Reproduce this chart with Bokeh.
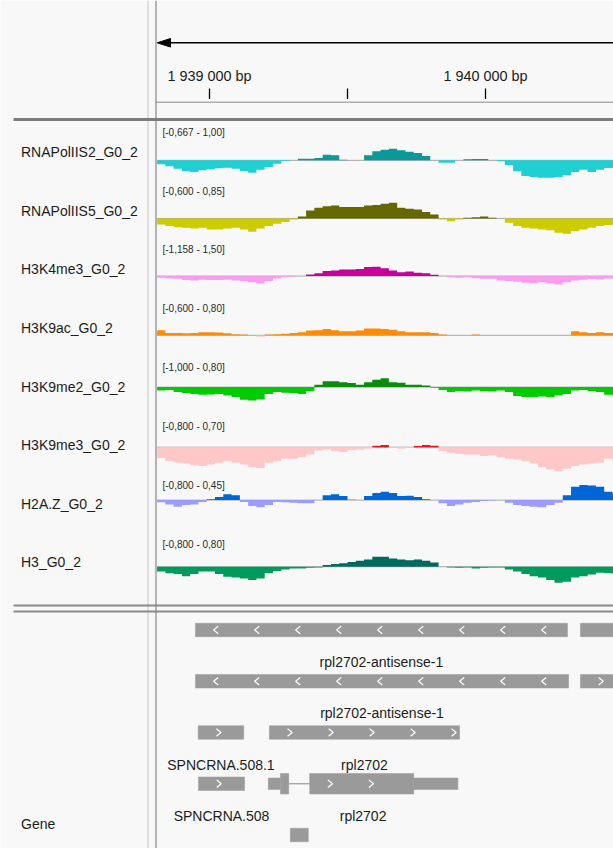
from bokeh.plotting import figure
from bokeh.models import Range1d
from bokeh.embed import file_html
from bokeh.resources import INLINE
from bokeh.core.properties import value

W, H = 613, 848
FONT = value("Liberation Sans")

# ------------------------------------------------------------------ data
bin_start = 1938810
bin_size = 30
ruler_ticks = [1939000, 1939500, 1940000]
ruler_labels = ["1 939 000 bp", "", "1 940 000 bp"]

track_names = ["RNAPolIIS2_G0_2", "RNAPolIIS5_G0_2", "H3K4me3_G0_2", "H3K9ac_G0_2",
               "H3K9me2_G0_2", "H3K9me3_G0_2", "H2A.Z_G0_2", "H3_G0_2"]
track_min = [-0.667, -0.600, -1.158, -0.600, -1.000, -0.800, -0.800, -0.800]
track_max = [1.00, 0.85, 1.50, 0.80, 0.80, 0.70, 0.45, 0.80]
range_labels = ["[-0,667 - 1,00]", "[-0,600 - 0,85]", "[-1,158 - 1,50]", "[-0,600 - 0,80]",
                "[-1,000 - 0,80]", "[-0,800 - 0,70]", "[-0,800 - 0,45]", "[-0,800 - 0,80]"]
pos_colors = ["#0b9898", "#676700", "#c6009a", "#ff8c00", "#0a8c0a", "#ff1010", "#0066d8", "#006a5e"]
neg_colors = ["#1fcfd2", "#cccc00", "#f89cee", "#ffb4a4", "#00cc00", "#ffc8c8", "#9c9cff", "#009a5c"]

sig_rnapol2 = [-0.12, -0.18, -0.25, -0.33, -0.35, -0.30, -0.27, -0.24, -0.22, -0.25,
               -0.32, -0.37, -0.28, -0.20, -0.10, -0.02, 0.00, 0.05, 0.05, 0.07,
               0.17, 0.15, 0.02, 0.00, 0.00, 0.15, 0.27, 0.32, 0.35, 0.30,
               0.26, 0.22, 0.13, 0.00, -0.07, -0.07, 0.00, 0.03, 0.04, 0.04,
               0.00, -0.03, -0.15, -0.33, -0.47, -0.50, -0.52, -0.52, -0.50, -0.45,
               -0.35, -0.28, -0.35, -0.28, -0.23, -0.22]
sig_rnapol5 = [-0.16, -0.20, -0.23, -0.24, -0.26, -0.24, -0.29, -0.29, -0.26, -0.24,
               -0.29, -0.35, -0.26, -0.20, -0.14, -0.09, -0.03, 0.05, 0.21, 0.28,
               0.32, 0.34, 0.30, 0.30, 0.30, 0.34, 0.35, 0.38, 0.41, 0.28,
               0.25, 0.23, 0.17, 0.10, -0.03, -0.07, -0.03, 0.02, 0.03, 0.05,
               0.02, 0.00, -0.11, -0.20, -0.24, -0.26, -0.29, -0.31, -0.37, -0.40,
               -0.33, -0.29, -0.24, -0.20, -0.17, -0.16]
sig_h3k4me3 = [-0.08, -0.11, -0.13, -0.19, -0.21, -0.18, -0.19, -0.19, -0.18, -0.21,
               -0.24, -0.29, -0.35, -0.24, -0.11, -0.05, -0.02, 0.00, 0.08, 0.13,
               0.24, 0.27, 0.32, 0.32, 0.34, 0.43, 0.45, 0.37, 0.27, 0.18,
               0.22, 0.16, 0.13, 0.06, 0.00, -0.06, -0.08, -0.06, -0.10, -0.13,
               -0.13, -0.21, -0.24, -0.27, -0.32, -0.34, -0.29, -0.35, -0.40, -0.29,
               -0.21, -0.18, -0.14, -0.16, -0.11, -0.13]
sig_h3k9ac = [0.13, 0.06, 0.06, 0.05, 0.06, 0.08, 0.08, 0.07, 0.05, 0.03,
              0.02, 0.00, -0.03, 0.02, 0.03, 0.04, 0.06, 0.08, 0.12, 0.13,
              0.16, 0.13, 0.10, 0.10, 0.12, 0.17, 0.17, 0.16, 0.14, 0.10,
              0.08, 0.08, 0.08, 0.06, 0.02, 0.00, 0.00, 0.00, 0.02, 0.00,
              0.00, 0.00, 0.00, 0.00, 0.00, 0.00, 0.00, 0.00, 0.00, 0.00,
              0.10, 0.08, 0.06, 0.08, 0.06, 0.06]
sig_h3k9me2 = [-0.11, -0.09, -0.16, -0.19, -0.22, -0.25, -0.24, -0.22, -0.27, -0.32,
               -0.41, -0.43, -0.40, -0.22, -0.16, -0.18, -0.19, -0.22, -0.13, 0.08,
               0.19, 0.19, 0.16, 0.13, 0.08, 0.16, 0.24, 0.29, 0.16, 0.14,
               0.08, 0.08, 0.05, -0.02, -0.09, -0.16, -0.13, -0.14, -0.11, -0.13,
               -0.14, -0.11, -0.16, -0.29, -0.32, -0.32, -0.30, -0.32, -0.27, -0.22,
               -0.11, -0.09, -0.13, -0.16, -0.25, -0.27]
sig_h3k9me3 = [-0.29, -0.38, -0.42, -0.44, -0.49, -0.51, -0.47, -0.42, -0.38, -0.42,
               -0.47, -0.54, -0.56, -0.42, -0.38, -0.31, -0.31, -0.27, -0.20, -0.09,
               -0.06, -0.11, -0.13, -0.08, -0.06, -0.04, 0.04, 0.06, -0.02, -0.04,
               -0.02, 0.03, 0.06, 0.04, -0.11, -0.15, -0.18, -0.20, -0.20, -0.24,
               -0.22, -0.27, -0.31, -0.33, -0.38, -0.44, -0.54, -0.60, -0.65, -0.58,
               -0.51, -0.47, -0.44, -0.42, -0.31, -0.38]
sig_h2az = [-0.05, -0.10, -0.15, -0.11, -0.10, -0.04, 0.02, 0.07, 0.13, 0.11,
            -0.04, -0.13, -0.16, -0.11, -0.04, -0.05, -0.06, -0.07, -0.07, 0.00,
            0.11, 0.13, 0.09, 0.01, 0.00, 0.09, 0.16, 0.19, 0.16, 0.09,
            0.10, 0.07, 0.02, 0.00, -0.07, -0.13, -0.10, -0.06, -0.04, -0.02,
            -0.01, 0.00, -0.06, -0.11, -0.13, -0.15, -0.16, -0.11, -0.06, 0.11,
            0.30, 0.34, 0.33, 0.30, 0.19, 0.15]
sig_h3 = [-0.14, -0.19, -0.21, -0.27, -0.21, -0.14, -0.14, -0.21, -0.29, -0.31,
          -0.34, -0.38, -0.34, -0.19, -0.12, -0.08, -0.05, -0.05, -0.03, -0.02,
          0.05, 0.08, 0.10, 0.14, 0.17, 0.21, 0.29, 0.29, 0.24, 0.21,
          0.19, 0.21, 0.17, 0.12, 0.00, -0.02, -0.03, -0.02, -0.05, -0.03,
          -0.02, -0.02, -0.08, -0.14, -0.21, -0.27, -0.31, -0.38, -0.46, -0.43,
          -0.31, -0.27, -0.22, -0.17, -0.19, -0.21]
signals = [sig_rnapol2, sig_rnapol5, sig_h3k4me3, sig_h3k9ac,
           sig_h3k9me2, sig_h3k9me3, sig_h2az, sig_h3]

# gene annotation track
gene_names = ["rpl2702-antisense-1", "", "rpl2702-antisense-1", "",
              "SPNCRNA.508.1", "rpl2702", "SPNCRNA.508", "rpl2702", ""]
gene_rows = [0, 0, 1, 1, 2, 2, 3, 3, 4]
gene_strands = ["-", ".", "-", "+", "+", "+", "+", "+", "."]
gene_exon_starts = [[1938949], [1940344], [1938949], [1940344], [1938959], [1939217],
                    [1938960], [1939213, 1939257, 1939363, 1939740], [1939293]]
gene_exon_ends = [[1940297], [1940700], [1940301], [1940700], [1939124], [1939906],
                  [1939127], [1939257, 1939287, 1939740, 1939900], [1939358]]
gene_exon_kinds = [["nc"], ["nc"], ["nc"], ["nc"], ["nc"], ["nc"],
                   ["nc"], ["utr", "cds", "cds", "utr"], ["nc"]]

# ------------------------------------------------------------------ layout
PX_PER_BP = 0.276
TICK0_PX = 209.0
bp_left = ruler_ticks[0] - TICK0_PX / PX_PER_BP
bp_right = bp_left + W / PX_PER_BP
TRACK_TOP0, TRACK_STEP, TRACK_H = 126.5, 58.85, 55.6
NAME_Y0, NAME_STEP = 151.7, 58.58
GENE_ROW0, GENE_STEP = 629.5, 51.25
EXON_H = {"nc": 13.5, "utr": 11.5, "cds": 20.5}
BG = "#f8f8f8"
GENE_COLOR = "#9a9a9a"
TXT = "#1c1c1c"

p = figure(width=W, height=H, x_range=Range1d(0, W), y_range=Range1d(H, 0),
           output_backend="svg", toolbar_location=None, min_border=0,
           x_axis_location=None, y_axis_location=None, outline_line_color=None,
           background_fill_color=BG, border_fill_color=BG)
p.grid.visible = False
p.extra_x_ranges = {"bp": Range1d(bp_left, bp_right)}

# panel dividers
p.segment(x0=[147.5], y0=[0], x1=[147.5], y1=[H], line_color="#c6c6c6", line_width=1)
p.segment(x0=[155.5], y0=[0], x1=[155.5], y1=[H], line_color="#8e8e8e", line_width=1.3)
p.segment(x0=[13], y0=[119], x1=[W], y1=[119], line_color="#7c7c7c", line_width=3)
p.segment(x0=[13, 13], y0=[605, 611], x1=[W, W], y1=[605, 611], line_color="#8a8a8a", line_width=2)
p.segment(x0=[155.5], y0=[101.7], x1=[W], y1=[101.7], line_color="#8a8a8a", line_width=1)

# strand arrow of the ruler
p.segment(x0=[166], y0=[42.3], x1=[W], y1=[42.3], line_color="black", line_width=1.5)
p.patch(x=[156.7, 170, 170], y=[42.3, 38.0, 46.6], fill_color="black", line_color="black")

# ruler ticks & labels
p.segment(x0=ruler_ticks, x1=ruler_ticks, y0=[88] * len(ruler_ticks), y1=[98.5] * len(ruler_ticks),
          x_range_name="bp", line_color="black", line_width=1.3)
lab = [(t, l) for t, l in zip(ruler_ticks, ruler_labels) if l]
p.text(x=[t for t, _ in lab], y=[75] * len(lab), text=[l for _, l in lab], x_range_name="bp",
       text_align="center", text_baseline="middle", text_font=FONT, text_font_size="14.4px",
       text_color=TXT)

# signal tracks (step areas, positive and negative parts)
n_bins = len(signals[0])
lefts = [bin_start + i * bin_size for i in range(n_bins)]
step_x = []
for l in lefts:
    step_x += [l, l + bin_size]
for i, sig in enumerate(signals):
    lo, hi = track_min[i], track_max[i]
    top = TRACK_TOP0 + i * TRACK_STEP
    ppu = TRACK_H / (hi - lo)
    rname = f"t{i}"
    p.extra_y_ranges[rname] = Range1d(hi - (H - top) / ppu, hi + top / ppu)
    p.segment(x0=[lefts[0]], x1=[lefts[-1] + bin_size], y0=[0], y1=[0], x_range_name="bp",
              y_range_name=rname, line_color="#a8a8a8", line_width=1)
    pos_y, neg_y = [], []
    for v in sig:
        pos_y += [max(v, 0.0)] * 2
        neg_y += [min(v, 0.0)] * 2
    zero = [0.0] * len(step_x)
    p.varea(x=step_x, y1=zero, y2=neg_y, x_range_name="bp", y_range_name=rname,
            fill_color=neg_colors[i])
    p.varea(x=step_x, y1=zero, y2=pos_y, x_range_name="bp", y_range_name=rname,
            fill_color=pos_colors[i])
    p.text(x=[162], y=[top + 5.2], text=[range_labels[i]], text_font=FONT, text_font_size="10px",
           text_baseline="middle", text_color="#2a2a2a")
    p.text(x=[20.5], y=[NAME_Y0 + i * NAME_STEP], text=[track_names[i]], text_font=FONT,
           text_font_size="14px", text_baseline="middle", text_color=TXT)

# gene track
p.text(x=[20.5], y=[823], text=["Gene"], text_font=FONT, text_font_size="14px",
       text_baseline="middle", text_color=TXT)

ex_l, ex_r, ex_t, ex_b = [], [], [], []
intr_x0, intr_x1, intr_y = [], [], []
chev_xs, chev_ys = [], []
lab_x, lab_y, lab_t = [], [], []
SP = 41 / PX_PER_BP          # chevron spacing (bp)
DX = 2.3 / PX_PER_BP         # chevron half width (bp)
for g in range(len(gene_names)):
    yc = GENE_ROW0 + GENE_STEP * gene_rows[g]
    starts, ends, kinds = gene_exon_starts[g], gene_exon_ends[g], gene_exon_kinds[g]
    for s, e, k in zip(starts, ends, kinds):
        ex_l.append(s); ex_r.append(e)
        ex_t.append(yc - EXON_H[k] / 2); ex_b.append(yc + EXON_H[k] / 2)
        if gene_strands[g] in "+-" and k != "utr" and e - s > 100:
            d = 1 if gene_strands[g] == "+" else -1
            positions = []
            c = s + SP / 2
            while c + DX * 2 < e:
                positions.append(c)
                c += SP
            if not positions:
                positions = [(s + e) / 2]
            for c in positions:
                chev_xs.append([c - d * DX, c + d * DX, c - d * DX])
                chev_ys.append([yc - 3.7, yc, yc + 3.7])
    for k in range(len(starts) - 1):
        if ends[k] < starts[k + 1]:
            intr_x0.append(ends[k]); intr_x1.append(starts[k + 1]); intr_y.append(yc)
    if gene_names[g]:
        lab_x.append((starts[0] + ends[-1]) / 2); lab_y.append(yc + 32); lab_t.append(gene_names[g])

p.segment(x0=intr_x0, x1=intr_x1, y0=intr_y, y1=intr_y, x_range_name="bp",
          line_color=GENE_COLOR, line_width=1.2)
p.quad(left=ex_l, right=ex_r, top=ex_t, bottom=ex_b, x_range_name="bp",
       fill_color=GENE_COLOR, line_color=GENE_COLOR, line_width=0.5)
p.multi_line(xs=chev_xs, ys=chev_ys, x_range_name="bp", line_color="white", line_width=1.2)
p.text(x=lab_x, y=lab_y, text=lab_t, x_range_name="bp", text_align="center",
       text_baseline="middle", text_font=FONT, text_font_size="14px", text_color=TXT)

open("out.html", "w").write(file_html(p, INLINE))
